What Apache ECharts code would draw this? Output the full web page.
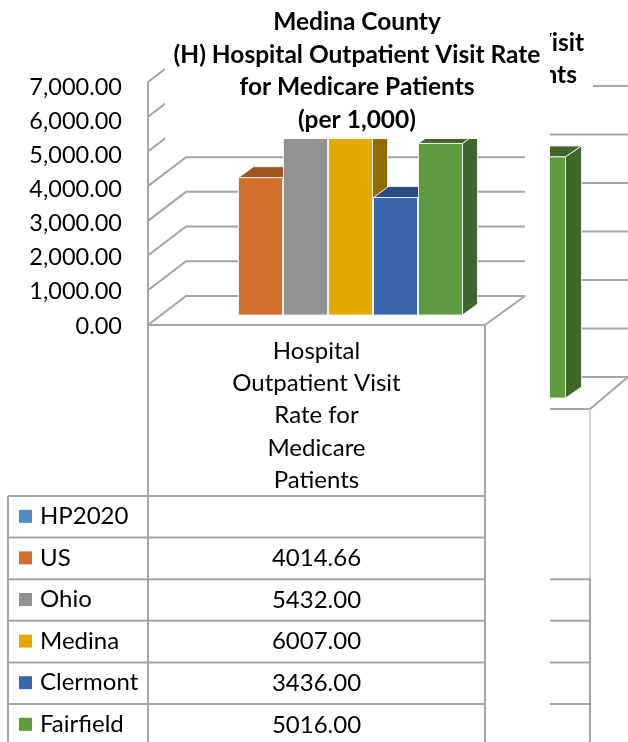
<!DOCTYPE html>
<html>
<head>
<meta charset="utf-8">
<title>Medina County Hospital Outpatient Visit Rate</title>
<script src="https://cdn.jsdelivr.net/npm/echarts@6/dist/echarts.min.js"></script>
<style>
  html, body { margin: 0; padding: 0; background: #fff; }
  #chart { width: 628px; height: 742px; }
</style>
</head>
<body>
<div id="chart"></div>
<script>
var regions = ['HP2020', 'US', 'Ohio', 'Medina', 'Clermont', 'Fairfield'];
var rates = [null, 4014.66, 5432.00, 6007.00, 3436.00, 5016.00];
var yTicks = [0, 1000, 2000, 3000, 4000, 5000, 6000, 7000];
var measure = 'Hospital\nOutpatient Visit\nRate for\nMedicare\nPatients';
var chartTitle = 'Medina County\n(H) Hospital Outpatient Visit Rate\nfor Medicare Patients\n(per 1,000)';

// the next chart on the sheet, mostly covered by this one
var behindRegions = ['Fairfield'];
var behindRates = [5016.00];
var behindTicks = [0, 1000, 2000, 3000, 4000, 5000, 6000];
var behindTitle = ['Visit', 'Patients'];

var faceColors = ['#4f8cc2', '#d26d2a', '#929292', '#e3a900', '#3b67ae', '#5f9a40'];
var sideColors = ['#2f5f8c', '#a0541f', '#6e6e6e', '#8f6b00', '#2b4b83', '#41652b'];
var lineColor = '#a6a6a6';
var font = 'Lato, "Open Sans", sans-serif';

var chart = echarts.init(document.getElementById('chart'), null, { renderer: 'canvas' });

function wallRenderer(dx, dy, fromX, toX) {
  return function (params, api) {
    var p = api.coord([0, api.value(0)]);
    var sys = params.coordSys;
    var style = { stroke: lineColor, fill: null, lineWidth: 2 };
    var pts = [[fromX === null ? sys.x : fromX, p[1] + dy], [toX === null ? sys.x + sys.width + dx : toX, p[1] + dy]];
    if (fromX === null) pts.unshift([sys.x, p[1]]);
    if (fromX === null) pts[1] = [sys.x + dx, p[1] + dy];
    return { type: 'polyline', shape: { points: pts }, style: style };
  };
}

function floorRenderer(dx, dy) {
  return function (params, api) {
    var sys = params.coordSys;
    var y = api.coord([0, 0])[1];
    var r = sys.x + sys.width;
    return { type: 'polyline', shape: { points: [[sys.x, y], [r, y], [r + dx, y + dy]] }, style: { stroke: lineColor, fill: null, lineWidth: 2 } };
  };
}

function barRenderer(dx, dy, colorIndex) {
  return function (params, api) {
    var val = api.value(1);
    if (isNaN(val)) return null;
    var idx = colorIndex === null ? params.dataIndex : colorIndex;
    var base = api.coord([api.value(0), 0]);
    var top = api.coord([api.value(0), val]);
    var w = api.size([1, 0])[0] - 1;
    var l = base[0] - w / 2, r = base[0] + w / 2;
    var edge = '#eeeeee';
    return {
      type: 'group',
      children: [
        { type: 'polygon', shape: { points: [[l, top[1]], [r, top[1]], [r + dx, top[1] + dy], [l + dx, top[1] + dy]] }, style: { fill: sideColors[idx], stroke: edge, lineWidth: 1 } },
        { type: 'polygon', shape: { points: [[r, top[1]], [r + dx, top[1] + dy], [r + dx, base[1] + dy], [r, base[1]]] }, style: { fill: sideColors[idx], stroke: edge, lineWidth: 1 } },
        { type: 'rect', shape: { x: l, y: top[1], width: w, height: base[1] - top[1] }, style: { fill: faceColors[idx], stroke: edge, lineWidth: 1 } }
      ]
    };
  };
}

function tickData(list) {
  return list.map(function (t) { return [t]; });
}

// data table under the chart
var tableTop = 496, rowH = 41.6, tableLeft = 8, col1 = 148, col2 = 485;
var graphics = [
  { type: 'rect', z: 1, shape: { x: 0, y: 0, width: 550, height: 742 }, style: { fill: '#fff' } },
  { type: 'rect', z: 5, shape: { x: 165, y: 0, width: 385, height: 139 }, style: { fill: '#fff' } },
  { type: 'rect', z: 0.5, shape: { x: 500, y: 0, width: 93, height: 120 }, style: { fill: '#fff' } },
  { type: 'text', z: 0.6, style: { x: 584, y: 43, text: behindTitle[0], font: 'bold 24.5px ' + font, fill: '#000', textAlign: 'right', textVerticalAlign: 'middle' } },
  { type: 'text', z: 0.6, style: { x: 577, y: 75, text: behindTitle[1], font: 'bold 24.5px ' + font, fill: '#000', textAlign: 'right', textVerticalAlign: 'middle' } },
  { type: 'line', z: 0.6, shape: { x1: 590, y1: 409, x2: 590, y2: 579 }, style: { stroke: '#cfcfcf', lineWidth: 2 } },
  { type: 'line', z: 0.6, shape: { x1: 590, y1: 579, x2: 590, y2: 742 }, style: { stroke: lineColor, lineWidth: 2 } }
];

function hline(y, x1, x2, z) {
  graphics.push({ type: 'line', z: z, shape: { x1: x1, y1: y, x2: x2, y2: y }, style: { stroke: lineColor, lineWidth: 2 } });
}
function vline(x, y1, y2) {
  graphics.push({ type: 'line', z: 3, shape: { x1: x, y1: y1, x2: x, y2: y2 }, style: { stroke: lineColor, lineWidth: 2 } });
}

vline(col1, 325, 742);
vline(col2, 325, 742);
vline(tableLeft, tableTop, 742);
regions.forEach(function (name, i) {
  var y = tableTop + i * rowH;
  hline(y, tableLeft, col2, 3);
  if (i > 0) hline(y + rowH, 550, 590, 0.6);
  graphics.push({ type: 'rect', z: 4, shape: { x: 19, y: y + rowH / 2 - 7, width: 13, height: 13 }, style: { fill: faceColors[i] } });
  graphics.push({ type: 'text', z: 4, style: { x: 40, y: y + rowH / 2 - 0.5, text: name, font: '24px ' + font, fill: '#000', textVerticalAlign: 'middle' } });
  if (rates[i] !== null) {
    graphics.push({ type: 'text', z: 4, style: { x: (col1 + col2) / 2, y: y + rowH / 2, text: rates[i].toFixed(2), font: '24px ' + font, fill: '#000', textAlign: 'center', textVerticalAlign: 'middle' } });
  }
});

var option = {
  animation: false,
  backgroundColor: '#fff',
  title: {
    text: chartTitle,
    left: 352,
    top: 1,
    textAlign: 'center',
    z: 6,
    textStyle: { fontFamily: font, fontSize: 24.5, fontWeight: 'bold', color: '#000', lineHeight: 32.5 }
  },
  grid: [
    { left: 148, top: 82, width: 337, height: 243 },
    { left: 193, top: 75.6, width: 270, height: 239.4 },
    { left: 250, top: 69.5, width: 340, height: 339.5 },
    { left: 521, top: 61.6, width: 45, height: 336.4 },
    // tick labels sit on a slightly tighter spacing than the gridlines
    { left: 148, top: 87, width: 337, height: 239 }
  ],
  xAxis: [
    {
      gridIndex: 0, type: 'category', data: [measure], z: 3,
      axisLine: { lineStyle: { color: lineColor, width: 2 } },
      axisTick: { show: false },
      axisLabel: { interval: 0, margin: 10, fontFamily: font, fontSize: 24, color: '#000', lineHeight: 32.3 }
    },
    { gridIndex: 1, type: 'category', data: regions, show: false },
    { gridIndex: 2, type: 'category', data: ['x'], show: false },
    { gridIndex: 3, type: 'category', data: behindRegions, show: false },
    { gridIndex: 4, type: 'category', data: ['x'], show: false }
  ],
  yAxis: [
    {
      gridIndex: 0, type: 'value', min: 0, max: 7000, interval: 1000, z: 10,
      axisLine: { show: true, lineStyle: { color: lineColor, width: 2 } },
      axisTick: { show: false },
      splitLine: { show: false },
      axisLabel: { show: false }
    },
    { gridIndex: 1, type: 'value', min: 0, max: 7000, show: false },
    { gridIndex: 2, type: 'value', min: 0, max: 7000, show: false },
    { gridIndex: 3, type: 'value', min: 0, max: 7000, show: false },
    {
      gridIndex: 4, type: 'value', min: 0, max: 7000, interval: 1000, z: 10,
      axisLine: { show: false },
      axisTick: { show: false },
      splitLine: { show: false },
      axisLabel: {
        margin: 26, fontFamily: font, fontSize: 23.5, color: '#000',
        formatter: function (v) { return v.toLocaleString('en-US', { minimumFractionDigits: 2, maximumFractionDigits: 2 }); }
      }
    }
  ],
  series: [
    { type: 'custom', z: 0.2, xAxisIndex: 2, yAxisIndex: 2, renderItem: wallRenderer(38, -32, 400, 628), data: tickData(behindTicks), encode: { y: 0 } },
    { type: 'custom', z: 0.3, xAxisIndex: 2, yAxisIndex: 2, renderItem: floorRenderer(38, -32), data: [[0]], encode: { y: 0 } },
    { type: 'custom', z: 0.4, xAxisIndex: 3, yAxisIndex: 3, renderItem: barRenderer(16, -11, 5), data: behindRates.map(function (v, i) { return [i, v]; }), encode: { x: 0, y: 1 } },
    { type: 'custom', z: 2, xAxisIndex: 0, yAxisIndex: 0, renderItem: wallRenderer(38, -29, null, 525), data: tickData(yTicks), encode: { y: 0 } },
    { type: 'custom', z: 2.5, xAxisIndex: 0, yAxisIndex: 0, renderItem: floorRenderer(40, -29), data: [[0]], encode: { y: 0 } },
    { type: 'custom', z: 4, xAxisIndex: 1, yAxisIndex: 1, renderItem: barRenderer(15, -11, null), data: rates.map(function (v, i) { return [i, v]; }), encode: { x: 0, y: 1 } }
  ],
  graphic: { elements: graphics }
};

chart.setOption(option);
</script>
</body>
</html>
